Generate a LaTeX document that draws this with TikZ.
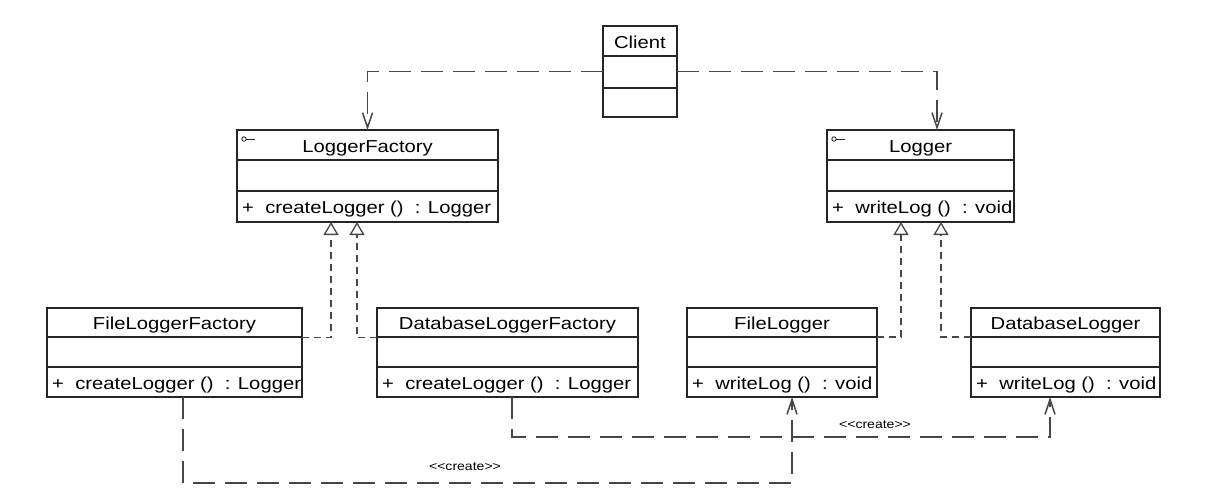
\documentclass[tikz,border=0pt]{standalone}
\usepackage{fontspec}
\newfontfamily\umlfont{Liberation Sans}[FakeStretch=1.17]
\usetikzlibrary{arrows.meta}

% class box: name, left, top, right, bottom, first divider, second divider
\newcommand{\umlclass}[7]{%
  \node[classframe, minimum width={#4-#2}, minimum height={#5-#3}] (#1) at ({(#2+#4)/2},{(#3+#5)/2}) {};
  \draw[divider] (#2,#6) -- (#4,#6) (#2,#7) -- (#4,#7);
  \coordinate (#1-title) at ({(#2+#4)/2},{(#3+#6)/2+7});
  \coordinate (#1-ops) at ({#2+5},{(#7+#5)/2+7});
}
% small interface mark in the top left corner of a class box
\newcommand{\ifacemark}[1]{%
  \draw[iconline] ([shift={(7,9)}]#1.north west) circle (2.2);
  \draw[iconline] ([shift={(9.2,9)}]#1.north west) -- ([shift={(18,9)}]#1.north west);
}

\tikzset{
  classframe/.style={draw=black!85, line width=1.3pt, inner sep=0pt, outer sep=0pt, rectangle},
  divider/.style={draw=black!85, line width=1.3pt},
  iconline/.style={draw=black!85, line width=0.9pt},
  titletext/.style={font=\umlfont\fontsize{17.3}{20}\selectfont, anchor=base, inner sep=0pt},
  opstext/.style={font=\umlfont\fontsize{17.3}{20}\selectfont, anchor=base west, inner sep=0pt},
  stereo/.style={font=\umlfont\fontsize{12}{14}\selectfont, inner sep=1pt},
  dep/.style={draw=black!72, line width=1.5pt, dash pattern=on 22pt off 10pt,
    -{Straight Barb[length=15pt,width=10pt]}},
  deproute/.style={draw=black!72, line width=1.5pt, dash pattern=on 22pt off 10pt},
  real/.style={draw=black!72, line width=1.3pt, dash pattern=on 7pt off 5pt,
    -{Triangle[open,length=13pt,width=15pt]}},
}

\begin{document}
\begin{tikzpicture}[x=1pt,y=-1pt]
\useasboundingbox (0,0) rectangle (1225,496);
\fill[white] (0,0) rectangle (1225,496);

% classes
\umlclass{client}{603}{26}{677}{117}{56}{88}
\umlclass{lf}{237}{130}{498}{222}{160}{191}
\umlclass{logger}{827}{130}{1014}{222}{160}{191}
\umlclass{flf}{47}{308}{302}{397}{337}{367}
\umlclass{dlf}{377}{308}{638}{397}{337}{367}
\umlclass{fl}{687}{308}{877}{397}{337}{367}
\umlclass{dl}{971}{308}{1160}{397}{337}{367}

\ifacemark{lf}
\ifacemark{logger}

% class names and operations
\node[titletext] (clientname) at (client-title) {Client};
\node[titletext] (lfname) at (lf-title) {LoggerFactory};
\node[opstext] (lfops) at (lf-ops) {+\ \ createLogger ()\ \ : Logger};
\node[titletext] (loggername) at (logger-title) {Logger};
\node[opstext] (loggerops) at (logger-ops) {+\ \ writeLog ()\ \ : void};
\node[titletext] (flfname) at (flf-title) {FileLoggerFactory};
\node[opstext] (flfops) at (flf-ops) {+\ \ createLogger ()\ \ : Logger};
\node[titletext] (dlfname) at (dlf-title) {DatabaseLoggerFactory};
\node[opstext] (dlfops) at (dlf-ops) {+\ \ createLogger ()\ \ : Logger};
\node[titletext] (flname) at (fl-title) {FileLogger};
\node[opstext] (flops) at (fl-ops) {+\ \ writeLog ()\ \ : void};
\node[titletext] (dlname) at (dl-title) {DatabaseLogger};
\node[opstext] (dlops) at (dl-ops) {+\ \ writeLog ()\ \ : void};

% client dependencies
\draw[dep] (client.west) -| (lf.north);
\draw[dep] (client.east) -| ([xshift=16.5pt]logger.north);

% realizations
\draw[real] ([yshift=15pt]flf.east) -| ([xshift=-36.5pt]lf.south);
\draw[real] ([yshift=15pt]dlf.west) -| ([xshift=-10.5pt]lf.south);
\draw[real] ([yshift=15.5pt]fl.east) -| ([xshift=-19.5pt]logger.south);
\draw[real] ([yshift=15.5pt]dl.west) -| ([xshift=20.5pt]logger.south);

% create dependencies
\draw[dep] ([xshift=8.5pt]flf.south) -- ++(0,86) -| ([xshift=10pt]fl.south);
\draw[dep] ([xshift=4.5pt]dlf.south) -- ++(0,40) -| ([xshift=-15.5pt]dl.south);
\node[stereo] (createlow) at (465,467) {<<create>>};
\node[stereo] (createhigh) at (875,425) {<<create>>};
\end{tikzpicture}
\end{document}
